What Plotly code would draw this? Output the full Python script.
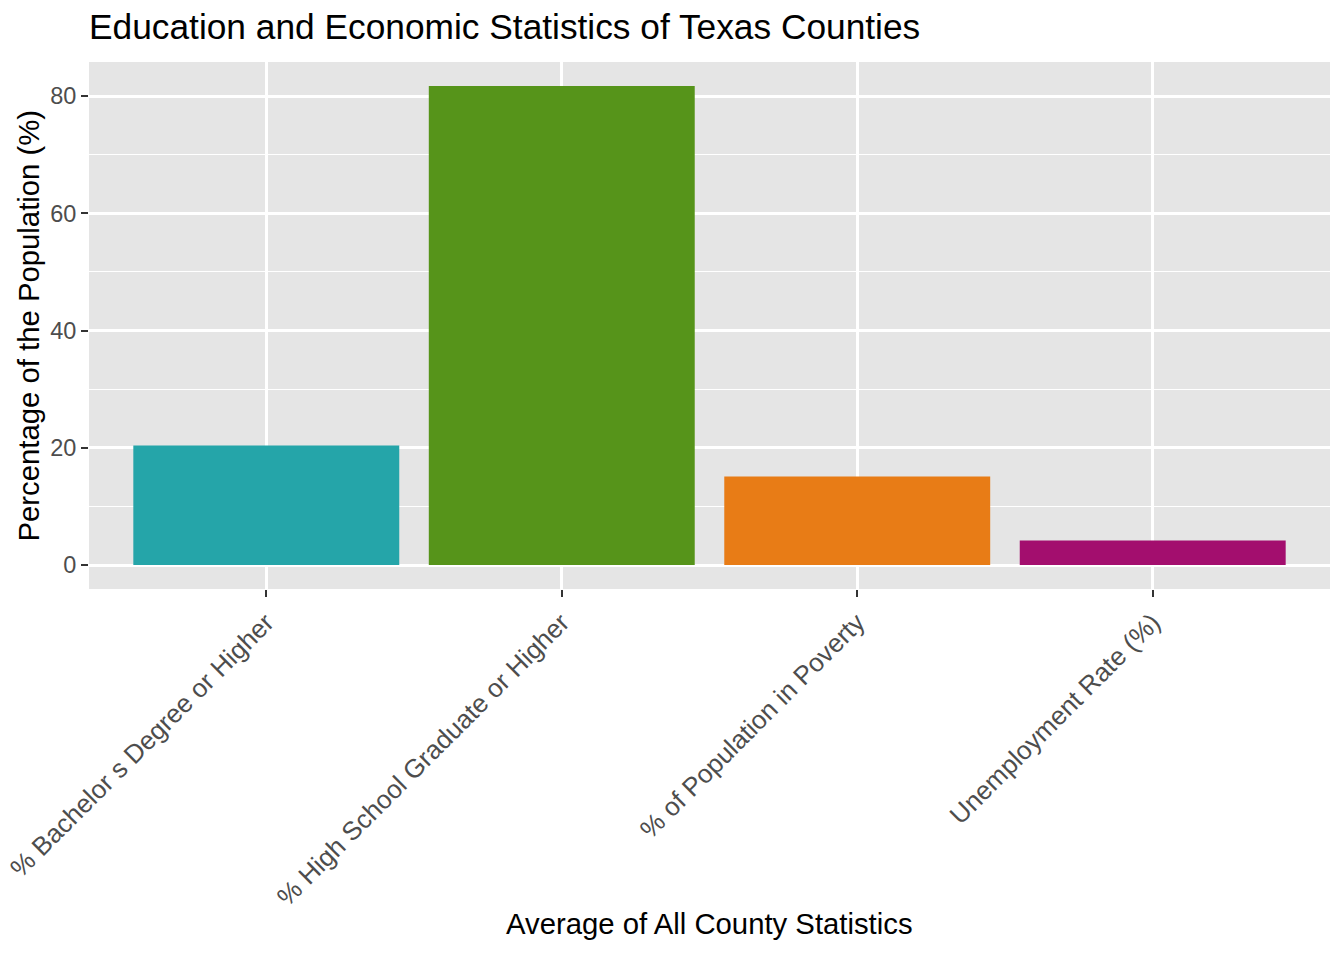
import plotly.graph_objects as go

categories = ["% Bachelor s Degree or Higher", "% High School Graduate or Higher",
              "% of Population in Poverty", "Unemployment Rate (%)"]
values = [20.4, 81.7, 15.1, 4.2]
colors = ["#25A5A9", "#56941A", "#E87C16", "#A30E6E"]
y_ticks = [0, 20, 40, 60, 80]

FONT = "Liberation Sans, Arial, Helvetica, sans-serif"

# page has an 8px body margin; work in page pixels and convert
OFF = 8
W, H = 1336, 952
ML, MR, MT, MB = 89 - OFF, 14, 62 - OFF, 371
PW, PH = W - ML - MR, H - MT - MB

def px_to_paper_x(px):
    return (px - OFF - ML) / PW

def px_to_paper_y(py):
    return (H - MB - (py - OFF)) / PH

fig = go.Figure(go.Bar(
    x=categories, y=values, marker=dict(color=colors, line=dict(width=0)),
    width=0.9, showlegend=False,
))

fig.update_layout(
    width=W, height=H,
    margin=dict(l=ML, r=MR, t=MT, b=MB),
    paper_bgcolor="white", plot_bgcolor="#E5E5E5",
    font=dict(family=FONT),
    title=dict(text="Education and Economic Statistics of Texas Counties",
               x=ML/W, xref="container", xanchor="left",
               y=1-(27-OFF)/H, yref="container", yanchor="middle",
               font=dict(size=35.3, color="black", family=FONT)),
    annotations=[
        dict(text="Average of All County Statistics", xref="paper", yref="paper",
             x=0.5, y=px_to_paper_y(923), xanchor="center", yanchor="middle", showarrow=False,
             font=dict(size=29.3, color="black", family=FONT)),
        dict(text="Percentage of the Population (%)", xref="paper", yref="paper",
             x=px_to_paper_x(28), y=0.5, xanchor="center", yanchor="middle", showarrow=False,
             textangle=-90, font=dict(size=29.3, color="black", family=FONT)),
    ],
)

fig.update_xaxes(
    range=[-0.6, 3.6], showgrid=True, gridcolor="white", gridwidth=2.7,
    ticks="outside", ticklen=7, tickwidth=2.2, tickcolor="#333333",
    tickangle=-45, tickfont=dict(size=26, color="#4D4D4D", family=FONT),
    zeroline=False, showline=False, automargin=False,
)
fig.update_yaxes(
    range=[-4.085, 85.8], tickvals=y_ticks, showgrid=True, gridcolor="white", gridwidth=2.7,
    ticks="outside", ticklen=7, tickwidth=2.2, tickcolor="#333333",
    tickfont=dict(size=23.5, color="#4D4D4D", family=FONT),
    minor=dict(tickvals=[10, 30, 50, 70], showgrid=True, gridcolor="white", gridwidth=1.4, ticks=""),
    zeroline=False, showline=False, automargin=False,
)

fig.write_html("out.html")
